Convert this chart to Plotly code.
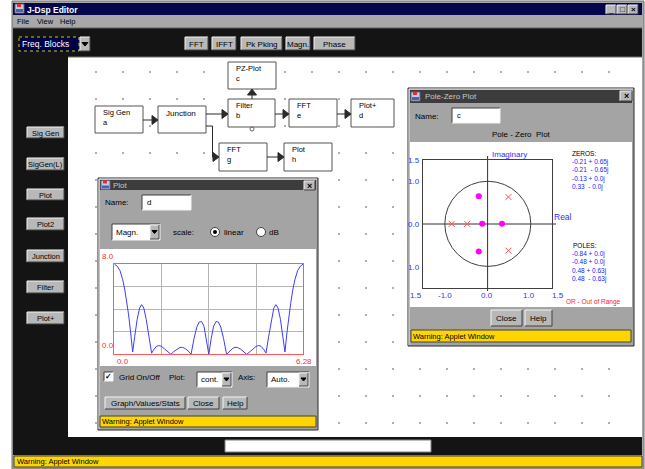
import plotly.graph_objects as go

# ---------------- data ----------------
mag_freq = [0.00, 0.10, 0.19, 0.28, 0.35, 0.42, 0.47, 0.54, 0.61,
            0.68, 0.76, 0.84, 0.91, 0.98, 1.06, 1.15, 1.24,
            1.32, 1.40, 1.48, 1.57, 1.66, 1.76, 1.88,
            1.98, 2.08, 2.18, 2.27, 2.36, 2.46, 2.55,
            2.65, 2.74, 2.82, 2.90, 2.98, 3.06, 3.14,
            3.22, 3.30, 3.38, 3.46, 3.54, 3.63, 3.73,
            3.82, 3.92, 4.01, 4.10, 4.20, 4.30, 4.40,
            4.52, 4.62, 4.71, 4.80, 4.88, 4.96, 5.04,
            5.13, 5.22, 5.30, 5.37, 5.44, 5.52, 5.60, 5.67,
            5.74, 5.81, 5.86, 5.93, 6.00, 6.09, 6.18, 6.28]
mag_vals = [8.0, 7.8, 7.4, 6.6, 5.7, 4.5, 3.6, 2.0, 0.2,
            1.6, 3.1, 4.1, 4.4, 4.1, 3.1, 1.6, 0.1,
            0.45, 0.7, 0.78, 0.7, 0.5, 0.25, 0.0,
            0.25, 0.45, 0.6, 0.62, 0.5, 0.28, 0.0,
            1.4, 2.4, 2.85, 2.9, 2.5, 1.4, 0.0,
            1.4, 2.5, 2.9, 2.85, 2.4, 1.4, 0.0,
            0.28, 0.5, 0.62, 0.6, 0.45, 0.25, 0.0,
            0.25, 0.5, 0.7, 0.78, 0.7, 0.45, 0.1,
            1.6, 3.1, 4.1, 4.4, 4.1, 3.1, 1.6, 0.2,
            2.0, 3.6, 4.5, 5.7, 6.6, 7.4, 7.8, 8.0]
mag_x_ticks = ["0.0", "6.28"]
mag_y_ticks = ["8.0", "0.0"]

zero_re = [-0.21, -0.21, -0.13, 0.33]
zero_im = [0.65, -0.65, 0.0, 0.0]
pole_re = [-0.84, -0.48, 0.48, 0.48]
pole_im = [0.0, 0.0, 0.63, -0.63]
zero_labels = ["-0.21 + 0.65j", "-0.21  - 0.65j", "-0.13 + 0.0j", "0.33  - 0.0j"]
pole_labels = ["-0.84 + 0.0j", "-0.48 + 0.0j", "0.48 + 0.63j", "0.48  - 0.63j"]
pz_x_ticks = ["1.5", "-1.0", "0.0", "1.0", "1.5"]
pz_y_ticks = ["1.5", "1.0", "0.0", "1.0"]

menu_items = ["File", "View", "Help"]
toolbar_buttons = ["FFT", "IFFT", "Pk Pking", "Magn.", "Phase"]
side_buttons = ["Sig Gen", "SigGen(L)", "Plot", "Plot2", "Junction", "Filter", "Plot+"]
block_titles = ["Sig Gen", "Junction", "Filter", "PZ-Plot", "FFT", "Plot+", "FFT", "Plot"]
block_ids = ["a", "", "b", "c", "e", "d", "g", "h"]

# ---------------- layout helpers (pixel space) ----------------
W, H = 645, 469
FONT = "Liberation Sans, Arial, sans-serif"
shapes, annots = [], []


def rect(x0, y0, x1, y1, fill, line=None, lw=1, dash=None):
    ln = dict(color=line if line else fill, width=lw if line else 0)
    if dash:
        ln["dash"] = dash
    shapes.append(dict(type="rect", xref="x", yref="y", x0=x0, y0=y0, x1=x1, y1=y1,
                       fillcolor=fill, line=ln, layer="below"))


def seg(x0, y0, x1, y1, color, w=1):
    shapes.append(dict(type="line", xref="x", yref="y", x0=x0, y0=y0, x1=x1, y1=y1,
                       line=dict(color=color, width=w), layer="below"))


def path(d, fill, color=None):
    shapes.append(dict(type="path", xref="x", yref="y", path=d, fillcolor=fill,
                       line=dict(color=color or fill, width=1), layer="below"))


def text(x, y, s, size=8, color="black", anchor="left", bold=False):
    if bold:
        s = "<b>" + s + "</b>"
    annots.append(dict(x=x, y=y, xref="x", yref="y", text=s, showarrow=False,
                       xanchor=anchor, yanchor="middle", borderpad=0, align="left",
                       font=dict(size=size, color=color, family=FONT)))


def bevel(x0, y0, x1, y1, fill="#b8b8b8", sunk=False):
    rect(x0, y0, x1, y1, fill)
    hi, lo = ("#404040", "#f4f4f4") if sunk else ("#f4f4f4", "#404040")
    seg(x0, y0, x1, y0, hi)
    seg(x0, y0, x0, y1, hi)
    seg(x0, y1, x1, y1, lo)
    seg(x1, y0, x1, y1, lo)


def button(x0, y0, x1, y1, label, size=8):
    bevel(x0, y0, x1, y1)
    text((x0 + x1) / 2, (y0 + y1) / 2 + 0.5, label, size, anchor="center")


def dropdown(x0, y0, x1, y1, label, bg="white", fg="black"):
    bevel(x0, y0, x1, y1, bg, sunk=True)
    bevel(x1 - 10, y0 + 1, x1 - 1, y1 - 1)
    path(f"M {x1-8},{(y0+y1)/2-1.5} L {x1-3},{(y0+y1)/2-1.5} L {x1-5.5},{(y0+y1)/2+1.5} Z", "black")
    text(x0 + 3, (y0 + y1) / 2, label, 8, fg)


def icon(x, y):
    rect(x, y, x + 9, y + 9, "#c8c8e8", "#606080")
    rect(x + 2, y, x + 6, y + 3, "#e03030")
    rect(x + 1, y + 5, x + 8, y + 8, "#5060a0")


# ---------------- main frame ----------------
rect(12, 1, 644, 469, "#a8a8a8", "#707070")
rect(13, 3, 642, 15, "#06064a")
icon(15, 4)
text(26, 9.5, "J-Dsp Editor", 8.5, "white", bold=True)
for i, g in enumerate(["_", "□", "×"]):
    bx = 606 + i * 11
    bevel(bx, 5, bx + 10, 14)
    text(bx + 5, 9.5, g, 8, "black", anchor="center", bold=(i == 2))
for lbl, mx in zip(menu_items, [16, 36, 59]):
    text(mx, 21.5, lbl, 7.5)
rect(13, 28, 642, 455, "#141414")
seg(13, 28, 642, 28, "#606060")
# toolbar
rect(19, 37, 79, 51, "#000048", "#c8c800", 1, "dot")
text(21, 44, "Freq. Blocks", 8.5, "white")
bevel(80, 37, 90, 51)
path("M 82,42.5 L 88,42.5 L 85,46 Z", "black")
for lbl, (x0, x1) in zip(toolbar_buttons, [(185, 208), (212, 236), (241, 282), (286, 310), (314, 355)]):
    button(x0, 37, x1, 50, lbl, 8)
# side buttons
side_y = [(127, 138), (158, 170), (189, 200), (218, 230), (250, 262), (281, 293), (312, 324)]
for lbl, (y0, y1) in zip(side_buttons, side_y):
    button(27, y0, 64, y1, lbl, 7.5)
# canvas
rect(68, 57, 642, 437, "white")
seg(68, 57, 642, 57, "#707070")
rect(225, 440, 431, 452, "white", "#808080")
rect(14, 456, 642, 467, "#ffd500", "#404040")
text(16, 461.5, "Warning: Applet Window", 7.5)

# ---------------- block diagram ----------------
block_pos = [(95, 106, 143, 133), (158, 106, 206, 133), (228, 99, 275, 127), (228, 62, 276, 89),
             (289, 99, 337, 127), (351, 99, 394, 127), (219, 143, 267, 171), (284, 143, 332, 171)]

# grid dots (drawn under everything, skip covered areas)
covers = [(97, 177, 319, 432), (406, 87, 636, 348)] + [(a - 1, b - 1, c + 1, d + 1) for a, b, c, d in block_pos]
dot_x, dot_y = [], []
for j in range(14):
    for i in range(20):
        px, py = 96 + 27 * i, 72 + 27 * j
        if not any(a <= px <= c and b <= py <= d for a, b, c, d in covers):
            dot_x.append(px)
            dot_y.append(py)

for (x0, y0, x1, y1), t, b in zip(block_pos, block_titles, block_ids):
    rect(x0, y0, x1, y1, "white", "#555555", 1)
    if b:
        text(x0 + 7, y0 + 11, t + "<br>" + b, 7.5)
    else:
        text(x0 + 7, y0 + 7, t, 8)

LC = "#2a2a2a"


def arrow_right(tx, ty):
    path(f"M {tx-6},{ty-4.5} L {tx},{ty} L {tx-6},{ty+4.5} Z", LC)


seg(143, 120, 153, 120, LC); arrow_right(158, 120)
seg(206, 114, 223, 114, LC); arrow_right(228, 114)
seg(275, 114, 284, 114, LC); arrow_right(289, 114)
seg(337, 114, 346, 114, LC); arrow_right(351, 114)
seg(252, 99, 252, 94, LC)
path("M 247.5,95 L 252,89 L 256.5,95 Z", LC)
seg(206, 126, 212.5, 126, LC); seg(212.5, 126, 212.5, 157, LC); seg(212.5, 157, 214, 157, LC)
arrow_right(219, 157)
seg(267, 157, 279, 157, LC); arrow_right(284, 157)
shapes.append(dict(type="circle", xref="x", yref="y", x0=250, y0=127, x1=254, y1=131,
                   line=dict(color="#666666", width=1), layer="below"))

# ---------------- Plot window ----------------
rect(98, 178, 318, 430, "#a4a4a4", "#2a2a2a")
seg(99, 179, 317, 179, "#e0e0e0"); seg(99, 179, 99, 429, "#e0e0e0")
rect(100, 180, 316, 190, "#3c3c3c")
icon(101, 180.5)
text(112, 185.5, "Plot", 8, "#c8c8c8")
bevel(304, 181, 315, 190)
text(309.5, 185.5, "×", 9, "black", anchor="center", bold=True)
text(104, 202.5, "Name:", 8)
bevel(142, 195, 191, 210, "white", sunk=True)
text(146, 202.5, "d", 8)
dropdown(112, 224, 160, 240, "Magn.")
text(172, 232, "scale:", 8)
for cx in (215, 261):
    shapes.append(dict(type="circle", xref="x", yref="y", x0=cx - 4.5, y0=227.5, x1=cx + 4.5, y1=236.5,
                       fillcolor="white", line=dict(color="#404040", width=1), layer="below"))
shapes.append(dict(type="circle", xref="x", yref="y", x0=213, y0=230, x1=217, y1=234,
                   fillcolor="black", line=dict(color="black", width=0), layer="below"))
text(223, 232, "linear", 8)
text(268, 232, "dB", 8)
rect(100, 249, 316, 366, "white")
text(101, 256.5, mag_y_ticks[0], 8, "#ff3030")
text(101, 345, mag_y_ticks[1], 8, "#ff3030")
text(116, 361.5, mag_x_ticks[0], 8, "#ff3030")
text(313, 361.5, mag_x_ticks[1], 8, "#ff3030", anchor="right")
bevel(104, 372, 113, 381, "white", sunk=True)
text(108.5, 376, "✓", 8, "black", anchor="center", bold=True)
text(118, 377.5, "Grid On/Off", 8)
text(168, 377.5, "Plot:", 8)
dropdown(197, 372, 232, 387, "cont.")
text(237, 377.5, "Axis:", 8)
dropdown(267, 372, 309, 387, "Auto.")
button(105, 397, 185, 409, "Graph/Values/Stats")
button(188, 397, 219, 409, "Close")
button(223, 397, 247, 409, "Help")
rect(100, 416, 316, 427, "#ffd500", "#404040")
text(101, 421.5, "Warning: Applet Window", 7.5)

# ---------------- Pole-Zero window ----------------
rect(408, 88, 634, 346, "#a4a4a4", "#2a2a2a")
seg(409, 89, 633, 89, "#e0e0e0"); seg(409, 89, 409, 345, "#e0e0e0")
rect(410, 90, 632, 103, "#3c3c3c")
icon(411, 92)
text(424, 96.5, "Pole-Zero Plot", 8, "#c8c8c8")
bevel(620, 91, 632, 101)
text(626, 96, "×", 9, "black", anchor="center", bold=True)
text(414, 116, "Name:", 8)
bevel(452, 108, 500, 123, "white", sunk=True)
text(456, 115, "c", 7.5)
text(521, 134, "Pole - Zero  Plot", 8, anchor="center")
rect(410, 142, 632, 307, "white")
seg(487.6, 156, 487.6, 291, "#303030")
seg(423, 224, 556, 224, "#303030")
text(509, 154, "Imaginary", 8, "#3030ff", anchor="center")
text(553, 217, "Real", 8.5, "#3030ff")
for lbl, py in zip(pz_y_ticks, [160, 181, 224, 267]):
    text(421, py, lbl, 8, "#3030ff", anchor="right")
for lbl, px in zip(pz_x_ticks, [416, 444.5, 486.5, 529, 558]):
    text(px, 295, lbl, 8, "#3030ff", anchor="center")
text(571, 153.5, "ZEROS:", 6.5)
text(571, 174.5, "<br>".join(zero_labels), 6.5, "#2020ff")
text(572, 245.5, "POLES:", 6.5)
text(571, 266, "<br>".join(pole_labels), 6.5, "#2020ff")
text(565, 302, "OR - Out of Range", 6.5, "#ff2020")
button(491, 310, 522, 326, "Close")
button(525, 310, 552, 326, "Help")
rect(411, 330, 631, 342, "#ffd500", "#404040")
text(412, 336, "Warning: Applet Window", 7.5)

shapes.append(dict(type="circle", xref="x3", yref="y3", x0=-1, y0=-1, x1=1, y1=1,
                   line=dict(color="#404040", width=1), layer="above"))

# ---------------- figure ----------------
fig = go.Figure()
fig.add_trace(go.Scatter(x=dot_x, y=dot_y, mode="markers", xaxis="x", yaxis="y",
                         marker=dict(size=2, color="#b0b0b0", symbol="square"), hoverinfo="skip"))
fig.add_trace(go.Scatter(x=mag_freq, y=mag_vals, mode="lines", xaxis="x2", yaxis="y2",
                         line=dict(color="#3c3cff", width=1), hoverinfo="skip"))
fig.add_trace(go.Scatter(x=zero_re, y=zero_im, mode="markers", xaxis="x3", yaxis="y3",
                         marker=dict(size=6, color="#ff00ff"), hoverinfo="skip"))
fig.add_trace(go.Scatter(x=pole_re, y=pole_im, mode="markers", xaxis="x3", yaxis="y3",
                         marker=dict(size=6, symbol="x-thin-open", color="#ff5050",
                                     line=dict(color="#ff5050", width=1)),
                         hoverinfo="skip"))


def xd(a, b):
    return [a / W, b / W]


def yd(top, bottom):
    return [(H - bottom) / H, (H - top) / H]


fig.update_layout(
    width=W, height=H, margin=dict(l=0, r=0, t=0, b=0),
    paper_bgcolor="white", plot_bgcolor="rgba(0,0,0,0)", showlegend=False,
    shapes=shapes, annotations=annots, hovermode=False,
    xaxis=dict(domain=[0, 1], range=[0, W], visible=False, fixedrange=True),
    yaxis=dict(domain=[0, 1], range=[H, 0], visible=False, fixedrange=True),
    xaxis2=dict(domain=xd(114.3, 303.3), range=[0, 6.28], anchor="y2",
                tickvals=[1.57, 3.14, 4.71], showticklabels=False, ticks="",
                showgrid=True, gridcolor="#b4b4b4", gridwidth=1, zeroline=False,
                showline=True, mirror=True, linecolor="#ff5a5a", linewidth=1, fixedrange=True),
    yaxis2=dict(domain=yd(264, 354.3), range=[0, 8], anchor="x2",
                tickvals=[2, 4, 6], showticklabels=False, ticks="",
                showgrid=True, gridcolor="#b4b4b4", gridwidth=1, zeroline=False,
                showline=True, mirror=True, linecolor="#ff5a5a", linewidth=1, fixedrange=True),
    xaxis3=dict(domain=xd(423.3, 552.3), range=[-1.5, 1.5], anchor="y3",
                showticklabels=False, ticks="", showgrid=False, zeroline=False,
                showline=True, mirror=True, linecolor="#404040", linewidth=1, fixedrange=True),
    yaxis3=dict(domain=yd(160, 287.7), range=[-1.5, 1.5], anchor="x3",
                showticklabels=False, ticks="", showgrid=False, zeroline=False,
                showline=True, mirror=True, linecolor="#404040", linewidth=1, fixedrange=True),
)

fig.write_html("out.html", config=dict(displayModeBar=False, staticPlot=True),
               post_script="document.body.style.margin='0px';document.body.style.padding='0px';")
